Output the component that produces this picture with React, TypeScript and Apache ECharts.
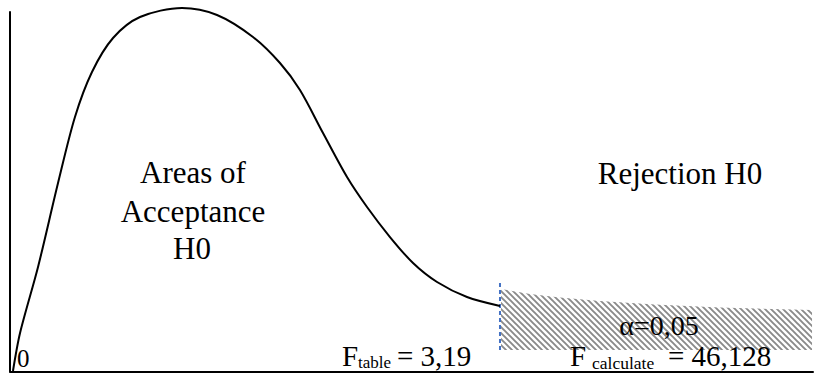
import React, { useEffect, useRef } from "react";
import * as echarts from "echarts";

// F-distribution-like curve (x: 0..100 axis units, y: 0..100 axis units)
const curveX = [0.37, 1.25, 3.49, 5.98, 8.09, 10.21, 12.83, 16.19, 21.42, 25.78, 30.26, 33.62, 36.11, 38.98, 41.97, 44.46, 47.32, 50.19, 53.18, 56.91, 61.02];
const curveY = [0.14, 10.71, 29.07, 52.43, 70.79, 83.31, 92.77, 98.61, 101.11, 99.17, 93.05, 85.81, 78.3, 66.34, 54.1, 45.76, 37.41, 30.18, 24.9, 20.72, 18.22];

// Rejection region (hatched)
const hatchX = [61.15, 64.76, 68.49, 73.47, 80.32, 88.42, 99.88];
const hatchTop = [22.95, 21.56, 20.58, 19.61, 18.64, 17.8, 17.11];
const hatchBottom = 5.98;

// Critical value marker
const criticalX = 61.02;
const criticalY = [5.98, 24.9];

const FONT = '"Liberation Serif", "Times New Roman", serif';

function makePattern() {
  const p = 6;
  const c = document.createElement("canvas");
  c.width = p;
  c.height = p;
  const ctx = c.getContext("2d")!;
  ctx.fillStyle = "#ffffff";
  ctx.fillRect(0, 0, p, p);
  ctx.strokeStyle = "#8a8a8a";
  ctx.lineWidth = 1.9;
  ctx.beginPath();
  ctx.moveTo(-1, -1);
  ctx.lineTo(p + 1, p + 1);
  ctx.moveTo(-2, p - 2);
  ctx.lineTo(2, p + 2);
  ctx.moveTo(p - 2, -2);
  ctx.lineTo(p + 2, 2);
  ctx.stroke();
  return { image: c, repeat: "repeat", imageWidth: p, imageHeight: p } as any;
}

function txt(text: string, x: number, baseline: number, size: number, align: string) {
  return {
    type: "text",
    x,
    y: baseline - 0.3375 * size,
    z: 10,
    style: {
      text,
      fill: "#000",
      font: `${size}px ${FONT}`,
      align,
      verticalAlign: "middle",
    },
  };
}

export default function App() {
  const ref = useRef<HTMLDivElement>(null);
  useEffect(() => {
    const chart = echarts.init(ref.current!, null, { renderer: "svg" });
    const pattern = makePattern();
    chart.setOption({
      animation: false,
      backgroundColor: "#ffffff",
      grid: { left: 10, right: 2, top: 12, bottom: 1.5 },
      xAxis: {
        type: "value",
        min: 0,
        max: 100,
        axisLine: { show: true, lineStyle: { color: "#000", width: 2 } },
        axisTick: { show: false },
        axisLabel: { show: false },
        splitLine: { show: false },
      },
      yAxis: {
        type: "value",
        min: 0,
        max: 100,
        axisLine: { show: true, lineStyle: { color: "#000", width: 2 } },
        axisTick: { show: false },
        axisLabel: { show: false },
        splitLine: { show: false },
      },
      series: [
        {
          type: "custom",
          data: [[0, 0]],
          clip: false,
          z: 1,
          renderItem: (_params: any, api: any) => {
            const pts = hatchX.map((x, i) => api.coord([x, hatchTop[i]]));
            pts.push(api.coord([hatchX[hatchX.length - 1], hatchBottom]));
            pts.push(api.coord([hatchX[0], hatchBottom]));
            return {
              type: "polygon",
              shape: { points: pts },
              style: { fill: pattern, stroke: null },
            };
          },
        },
        {
          type: "line",
          data: criticalY.map((y) => [criticalX, y]),
          symbol: "none",
          clip: false,
          z: 2,
          lineStyle: { color: "#4472c4", width: 2, type: [4, 3] },
        },
        {
          type: "line",
          data: curveX.map((x, i) => [x, curveY[i]]),
          smooth: 0.3,
          symbol: "none",
          clip: false,
          z: 3,
          lineStyle: { color: "#000", width: 2 },
        },
      ],
      graphic: [
        txt("Areas of", 193, 183, 31, "center"),
        txt("Acceptance", 193, 221.5, 31, "center"),
        txt("H0", 192, 259, 31, "center"),
        txt("Rejection H0", 680, 184, 31, "center"),
        txt("α=0,05", 659, 335, 28, "center"),
        txt("0", 17, 366.5, 25, "left"),
        txt("F", 342, 366, 29, "left"),
        txt("table", 358, 368.5, 17, "left"),
        txt("= 3,19", 397, 366, 29, "left"),
        txt("F", 570, 366, 29, "left"),
        txt("calculate", 592, 368.5, 17.5, "left"),
        txt("= 46,128", 668, 366, 29, "left"),
      ],
    });
    return () => chart.dispose();
  }, []);
  return (
    <div
      ref={ref}
      style={{ position: "fixed", left: 0, top: 0, width: 815, height: 373, background: "#fff" }}
    />
  );
}
